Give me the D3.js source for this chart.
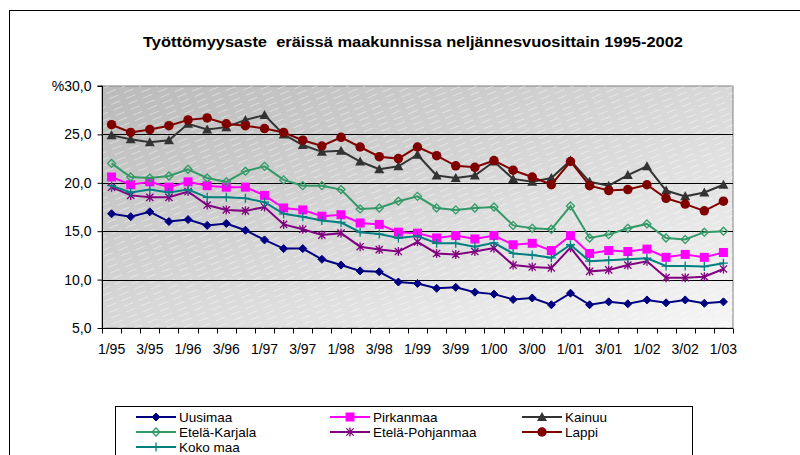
<!DOCTYPE html>
<html>
<head>
<meta charset="utf-8">
<script src="https://cdn.jsdelivr.net/npm/d3@7"></script>
<style>
	body { margin: 0; background: #fff; }
	svg { display: block; font-family: 'Liberation Sans', Arial, sans-serif; }
	.title { white-space: pre; }
</style>
</head>
<body>
<div id="chart"></div>
<script>
// quarterly categories 1/95 .. 1/03
const quarters = [
	'1/95','2/95','3/95','4/95','1/96','2/96','3/96','4/96',
	'1/97','2/97','3/97','4/97','1/98','2/98','3/98','4/98',
	'1/99','2/99','3/99','4/99','1/00','2/00','3/00','4/00',
	'1/01','2/01','3/01','4/01','1/02','2/02','3/02','4/02','1/03'
];
const xTickLabels = ['1/95','3/95','1/96','3/96','1/97','3/97','1/98','3/98','1/99','3/99','1/00','3/00','1/01','3/01','1/02','3/02','1/03'];
const yTicks = [5, 10, 15, 20, 25, 30];

const uusimaa = [16.8,16.5,17.0,16.0,16.2,15.6,15.8,15.1,14.1,13.2,13.2,12.1,11.5,10.9,10.8,9.75,9.6,9.1,9.2,8.7,8.5,7.95,8.1,7.4,8.6,7.4,7.7,7.5,7.9,7.6,7.9,7.55,7.7];
const pirkanmaa = [20.6,19.8,20.1,19.55,20.1,19.7,19.55,19.55,18.7,17.4,17.2,16.55,16.7,15.85,15.7,14.9,14.8,14.3,14.55,14.2,14.55,13.6,13.75,13.0,14.55,12.7,13.0,12.9,13.15,12.3,12.6,12.3,12.8];
const kainuu = [24.9,24.5,24.2,24.4,26.1,25.5,25.75,26.5,27.0,25.0,23.9,23.2,23.3,22.2,21.4,21.7,22.9,20.75,20.5,20.75,22.2,20.4,20.1,20.5,22.3,20.1,19.7,20.8,21.7,19.2,18.6,19.0,19.8];
const etelaKarjala = [22.0,20.6,20.5,20.7,21.4,20.5,20.1,21.2,21.7,20.3,19.7,19.7,19.3,17.3,17.4,18.1,18.6,17.4,17.2,17.4,17.5,15.6,15.3,15.2,17.6,14.3,14.65,15.3,15.75,14.3,14.15,14.9,15.0];
const etelaPohjanmaa = [19.55,18.7,18.5,18.5,19.1,17.7,17.2,17.1,17.5,15.7,15.2,14.6,14.8,13.4,13.1,12.9,13.9,12.7,12.6,12.9,13.25,11.5,11.3,11.2,13.3,10.85,11.0,11.5,11.9,10.2,10.2,10.3,11.1];
const lappi = [26.0,25.2,25.5,25.9,26.5,26.7,26.1,25.9,25.6,25.2,24.4,23.8,24.7,23.7,22.7,22.5,23.7,22.8,21.75,21.6,22.3,21.3,20.6,19.8,22.2,19.7,19.2,19.3,19.8,18.4,17.8,17.1,18.1];
const kokoMaa = [19.7,19.0,19.3,19.0,19.3,18.5,18.5,18.4,18.0,16.8,16.5,16.1,15.9,14.9,14.7,14.3,14.5,13.75,13.75,13.4,13.8,12.7,12.55,12.25,13.6,11.9,12.0,12.1,12.2,11.4,11.4,11.35,11.7];

// series in the legend's order (row by row, 3 columns)
const series = [
	{ name: 'Uusimaa', values: uusimaa, color: '#000080', marker: 'diamond' },
	{ name: 'Pirkanmaa', values: pirkanmaa, color: '#ff00ff', marker: 'square' },
	{ name: 'Kainuu', values: kainuu, color: '#333333', marker: 'triangle' },
	{ name: 'Etelä-Karjala', values: etelaKarjala, color: '#339966', marker: 'openDiamond' },
	{ name: 'Etelä-Pohjanmaa', values: etelaPohjanmaa, color: '#800080', marker: 'star' },
	{ name: 'Lappi', values: lappi, color: '#800000', marker: 'circle' },
	{ name: 'Koko maa', values: kokoMaa, color: '#008080', marker: 'plus' }
];

const width = 800, height = 455;
const plot = { left: 102, right: 733, top: 86, bottom: 328 };

const svg = d3.select('#chart')
	.append('svg')
	.attr('width', width)
	.attr('height', height);

// outer frame (runs off the page on right & bottom)
svg.append('rect')
	.attr('x', 9.5).attr('y', 10.5)
	.attr('width', 820).attr('height', 480)
	.attr('fill', '#fff')
	.attr('stroke', '#000');

svg.append('text')
	.attr('class', 'title')
	.attr('x', 413)
	.attr('y', 47)
	.attr('text-anchor', 'middle')
	.attr('font-size', 15.5)
	.attr('font-weight', 'bold')
	.attr('textLength', 540)
	.attr('lengthAdjust', 'spacingAndGlyphs')
	.text('Työttömyysaste  eräissä maakunnissa neljännesvuosittain 1995-2002');

const x = d3.scaleBand()
	.domain(quarters)
	.range([plot.left, plot.right])
	.padding(0);
const cx = d => x(d) + x.bandwidth() / 2;

const y = d3.scaleLinear()
	.domain([5, 30])
	.range([plot.bottom, plot.top]);

// plot background: diagonal grey gradient with faint stripes
const defs = svg.append('defs');
const grad = defs.append('linearGradient')
	.attr('id', 'bg')
	.attr('x1', '0').attr('y1', '0')
	.attr('x2', '1').attr('y2', '1');
grad.append('stop').attr('offset', '0%').attr('stop-color', '#bababa');
grad.append('stop').attr('offset', '100%').attr('stop-color', '#f6f6f6');

const pat = defs.append('pattern')
	.attr('id', 'stripes')
	.attr('patternUnits', 'userSpaceOnUse')
	.attr('width', 16).attr('height', 6)
	.attr('patternTransform', 'rotate(-22)');
pat.append('line')
	.attr('x1', 0).attr('y1', 0.5)
	.attr('x2', 10).attr('y2', 0.5)
	.attr('stroke', '#fff')
	.attr('stroke-opacity', 0.4)
	.attr('stroke-width', 1);

svg.append('rect')
	.attr('x', plot.left).attr('y', plot.top)
	.attr('width', plot.right - plot.left)
	.attr('height', plot.bottom - plot.top)
	.attr('fill', 'url(#bg)')
	.attr('stroke', '#808080');
svg.append('rect')
	.attr('x', plot.left).attr('y', plot.top)
	.attr('width', plot.right - plot.left)
	.attr('height', plot.bottom - plot.top)
	.attr('fill', 'url(#stripes)');

// gridlines
svg.append('g')
	.selectAll('line')
	.data(yTicks.filter(d => d > 5 && d < 30))
	.join('line')
	.attr('x1', plot.left).attr('x2', plot.right)
	.attr('y1', d => Math.round(y(d)) + 0.5)
	.attr('y2', d => Math.round(y(d)) + 0.5)
	.attr('stroke', '#000');

// y axis
const fmt = d => d3.format('.1f')(d).replace('.', ',');
svg.append('g')
	.attr('transform', `translate(${plot.left + 0.5},0)`)
	.call(d3.axisLeft(y)
		.tickValues(yTicks)
		.tickSize(5)
		.tickPadding(6)
		.tickFormat(d => d === 30 ? '%' + fmt(d) : fmt(d))
	)
	.call(g => g.selectAll('text').attr('font-size', 14).attr('fill', '#000').attr('font-family', 'Liberation Sans, Arial, sans-serif'))
	.call(g => g.selectAll('line, path').attr('stroke', '#000'))
	.call(g => g.select('.domain').attr('d', `M-5,${y(30)}H0V${y(5) + 0.5}`));

// x axis: ticks between categories, labels on every second point
const xAxisG = svg.append('g')
	.attr('transform', `translate(0,${plot.bottom + 0.5})`);
xAxisG.append('line')
	.attr('x1', plot.left).attr('x2', plot.right)
	.attr('stroke', '#000');
xAxisG.selectAll('.tick')
	.data(quarters.concat(['end']))
	.join('line')
	.attr('class', 'tick')
	.attr('x1', d => Math.round(d === 'end' ? plot.right : x(d)) + 0.5)
	.attr('x2', d => Math.round(d === 'end' ? plot.right : x(d)) + 0.5)
	.attr('y1', 0).attr('y2', 5)
	.attr('stroke', '#000');
xAxisG.selectAll('text')
	.data(xTickLabels)
	.join('text')
	.attr('x', d => cx(d))
	.attr('y', 25)
	.attr('text-anchor', 'middle')
	.attr('font-size', 14)
	.text(d => d);

// markers
const drawMarker = (g, type, color, size) => {
	const s = size / 2;
	if (type === 'diamond') {
		g.append('path').attr('d', `M0,${-s}L${s},0L0,${s}L${-s},0Z`).attr('fill', color).attr('stroke', color);
	} else if (type === 'openDiamond') {
		g.append('path').attr('d', `M0,${-s}L${s},0L0,${s}L${-s},0Z`).attr('fill', '#fff').attr('fill-opacity', 0).attr('stroke', color).attr('stroke-width', 1.3);
	} else if (type === 'square') {
		g.append('rect').attr('x', -s).attr('y', -s).attr('width', size).attr('height', size).attr('fill', color);
	} else if (type === 'triangle') {
		g.append('path').attr('d', `M0,${-s}L${s},${s * 0.8}L${-s},${s * 0.8}Z`).attr('fill', color);
	} else if (type === 'circle') {
		g.append('circle').attr('r', s).attr('fill', color);
	} else if (type === 'star') {
		const a = s * 0.8;
		g.append('path').attr('d', `M0,${-s}V${s}M${-a},${-a}L${a},${a}M${-a},${a}L${a},${-a}`).attr('stroke', color).attr('stroke-width', 1.3);
	} else if (type === 'plus') {
		g.append('path').attr('d', `M0,${-s}V${s}M${-s},0H${s}`).attr('stroke', color).attr('stroke-width', 1.3);
	}
};

const markerSize = { diamond: 8, openDiamond: 8, square: 9, triangle: 10, circle: 9.5, star: 9, plus: 9 };

const line = d3.line()
	.x((d, i) => cx(quarters[i]))
	.y(d => y(d));

series.forEach(s => {
	const g = svg.append('g').attr('class', 'series');
	g.append('path')
		.datum(s.values)
		.attr('fill', 'none')
		.attr('stroke', s.color)
		.attr('stroke-width', 2)
		.attr('d', line);
	s.values.forEach((v, i) => {
		const m = g.append('g').attr('transform', `translate(${cx(quarters[i])},${y(v)})`);
		drawMarker(m, s.marker, s.color, markerSize[s.marker]);
	});
});

// legend
const legend = svg.append('g');
legend.append('rect')
	.attr('x', 115.5).attr('y', 406.5)
	.attr('width', 577).attr('height', 80)
	.attr('fill', '#fff')
	.attr('stroke', '#000');

const colX = [136, 330, 522];
series.forEach((s, i) => {
	const lx = colX[i % 3];
	const ly = 417 + Math.floor(i / 3) * 15;
	const item = legend.append('g').attr('transform', `translate(${lx},${ly})`);
	item.append('line')
		.attr('x1', 0).attr('x2', 40)
		.attr('stroke', s.color)
		.attr('stroke-width', 2);
	drawMarker(item.append('g').attr('transform', 'translate(20,0)'), s.marker, s.color, markerSize[s.marker]);
	item.append('text')
		.attr('x', 43)
		.attr('y', 5)
		.attr('font-size', 13.5)
		.text(s.name);
});
</script>
</body>
</html>
